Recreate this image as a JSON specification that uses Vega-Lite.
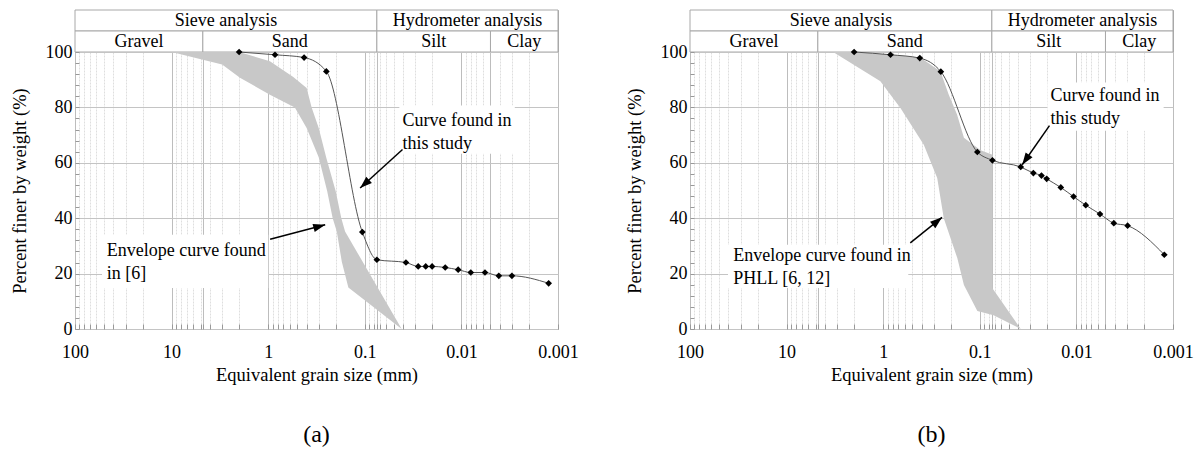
{
  "$schema": "https://vega.github.io/schema/vega-lite/v6.json",
  "background": "white",
  "padding": {"left": 9, "top": 9, "right": 5, "bottom": 5},
  "config": {
    "font": "Liberation Serif",
    "view": {"stroke": "#a8a8a8"},
    "axis": {"labelFont": "Liberation Serif", "titleFont": "Liberation Serif", "labelFontSize": 18, "titleFontSize": 18.5, "titleFontWeight": "normal", "labelColor": "#000", "titleColor": "#000", "domain": false},
    "title": {"font": "Liberation Serif", "fontSize": 24, "fontWeight": "normal", "color": "#000"}
  },
  "spacing": 45,
  "hconcat": [
    {
      "spacing": 0,
      "bounds": "flush",
      "vconcat": [
        {
          "width": 483, "height": 42,
          "data": {"values": [
            {"level": "analysis", "lo": 100, "hi": 0.075, "label": "Sieve analysis"},
            {"level": "analysis", "lo": 0.075, "hi": 0.001, "label": "Hydrometer analysis"},
            {"level": "soil", "lo": 100, "hi": 4.75, "label": "Gravel"},
            {"level": "soil", "lo": 4.75, "hi": 0.075, "label": "Sand"},
            {"level": "soil", "lo": 0.075, "hi": 0.005, "label": "Silt"},
            {"level": "soil", "lo": 0.005, "hi": 0.001, "label": "Clay"}
          ]},
          "layer": [
            {"mark": {"type": "rect", "fill": "white", "stroke": "#a8a8a8", "strokeWidth": 1},
             "encoding": {
               "x": {"field": "lo", "type": "quantitative", "scale": {"type": "log", "domain": [0.001, 100], "reverse": true, "nice": false}, "axis": null},
               "x2": {"field": "hi"},
               "y": {"field": "level", "type": "nominal", "scale": {"domain": ["analysis", "soil"], "paddingInner": 0, "paddingOuter": 0}, "axis": null}
             }},
            {"transform": [{"calculate": "sqrt(datum.lo*datum.hi)", "as": "mid"}],
             "mark": {"type": "text", "fontSize": 18, "font": "Liberation Serif", "baseline": "middle", "color": "#000"},
             "encoding": {
               "x": {"field": "mid", "type": "quantitative"},
               "y": {"field": "level", "type": "nominal"},
               "text": {"field": "label"}
             }}
          ]
        },
        {
          "width": 483, "height": 277,
          "title": {"text": "(a)", "orient": "bottom", "offset": 39, "anchor": "middle", "frame": "group"},
          "layer": [
            {"data": {"values": [
               {"size": 0.0439, "size2": 0.0028, "pct": 80.7, "pct2": 63.3},
               {"size": 52.5, "size2": 1.0, "pct": 34.0, "pct2": 14.8}
             ]},
             "mark": {"type": "rect", "fill": "white"},
             "encoding": {
               "x": {"field": "size", "type": "quantitative", "scale": {"type": "log", "domain": [0.001, 100], "reverse": true, "nice": false},
                 "axis": {"title": "Equivalent grain size (mm)", "values": [100,90,80,70,60,50,40,30,20,10,9,8,7,6,5,4.75,4,3,2,1,0.9,0.8,0.7,0.6,0.5,0.4,0.3,0.2,0.1,0.09,0.08,0.075,0.07,0.06,0.05,0.04,0.03,0.02,0.01,0.009,0.008,0.007,0.006,0.005,0.004,0.003,0.002,0.001],
                   "tickCount": 200,
                   "labelExpr": "abs(log(datum.value)/LN10 - round(log(datum.value)/LN10)) < 0.001 ? format(datum.value, '~g') : ''",
                   "labelOverlap": false, "labelFlush": false, "labelPadding": 19.5, "titlePadding": 3.5,
                   "grid": true,
                   "gridColor": {"condition": {"test": "abs(log(datum.value)/LN10 - round(log(datum.value)/LN10)) < 0.001 || datum.value == 4.75 || datum.value == 0.075 || datum.value == 0.005", "value": "#bdbdbd"}, "value": "#dedede"},
                   "gridDash": {"condition": {"test": "abs(log(datum.value)/LN10 - round(log(datum.value)/LN10)) < 0.001 || datum.value == 4.75 || datum.value == 0.075 || datum.value == 0.005", "value": []}, "value": [2, 1]},
                   "tickSize": -5, "tickColor": "#999999"}},
               "x2": {"field": "size2"},
               "y": {"field": "pct", "type": "quantitative", "scale": {"domain": [0, 100], "nice": false},
                 "axis": {"title": "Percent finer by weight (%)", "values": [0,4,8,12,16,20,24,28,32,36,40,44,48,52,56,60,64,68,72,76,80,84,88,92,96,100],
                   "tickCount": 200,
                   "labelExpr": "datum.value % 20 === 0 ? format(datum.value, 'd') : ''",
                   "labelPadding": 7, "titlePadding": 16, "labelOverlap": false,
                   "grid": true, "gridColor": "#c4c4c4",
                   "gridOpacity": {"condition": {"test": "datum.value % 20 === 0", "value": 1}, "value": 0},
                   "tickSize": -4, "tickColor": "#999999"}},
               "y2": {"field": "pct2"}
             }},
            {"data": {"values": [
               {"vertex": 1, "size": 10, "pct": 100},
               {"vertex": 2, "size": 3.0, "pct": 95.5},
               {"vertex": 3, "size": 1.96, "pct": 90.7},
               {"vertex": 4, "size": 0.96, "pct": 84.6},
               {"vertex": 5, "size": 0.53, "pct": 80},
               {"vertex": 6, "size": 0.4, "pct": 72.6},
               {"vertex": 7, "size": 0.3, "pct": 62},
               {"vertex": 8, "size": 0.245, "pct": 49.7},
               {"vertex": 9, "size": 0.215, "pct": 40},
               {"vertex": 10, "size": 0.195, "pct": 35.2},
               {"vertex": 11, "size": 0.173, "pct": 24.3},
               {"vertex": 12, "size": 0.148, "pct": 15},
               {"vertex": 13, "size": 0.0415, "pct": 0},
               {"vertex": 14, "size": 0.16, "pct": 35.2},
               {"vertex": 15, "size": 0.175, "pct": 40},
               {"vertex": 16, "size": 0.2, "pct": 49.7},
               {"vertex": 17, "size": 0.25, "pct": 61.7},
               {"vertex": 18, "size": 0.3, "pct": 72.6},
               {"vertex": 19, "size": 0.355, "pct": 80},
               {"vertex": 20, "size": 0.4, "pct": 87},
               {"vertex": 21, "size": 0.55, "pct": 91},
               {"vertex": 22, "size": 0.96, "pct": 96.7},
               {"vertex": 23, "size": 2.0, "pct": 100}
             ]},
             "mark": {"type": "line", "interpolate": "linear-closed", "filled": true, "color": "#c8c8c8", "strokeWidth": 0},
             "encoding": {
               "x": {"field": "size", "type": "quantitative"},
               "y": {"field": "pct", "type": "quantitative"},
               "order": {"field": "vertex", "type": "quantitative"}
             }},
            {"data": {"values": [
               {"size": 2.0, "pct": 100}, {"size": 0.85, "pct": 99}, {"size": 0.425, "pct": 98}, {"size": 0.25, "pct": 93},
               {"size": 0.106, "pct": 35}, {"size": 0.075, "pct": 25}, {"size": 0.0375, "pct": 24}, {"size": 0.028, "pct": 22.6},
               {"size": 0.0234, "pct": 22.6}, {"size": 0.0201, "pct": 22.6}, {"size": 0.0147, "pct": 22.2}, {"size": 0.0108, "pct": 21.4},
               {"size": 0.008, "pct": 20.4}, {"size": 0.0057, "pct": 20.4}, {"size": 0.0041, "pct": 19.2}, {"size": 0.003, "pct": 19.2},
               {"size": 0.00125, "pct": 16.5}
             ]},
             "layer": [
               {"mark": {"type": "line", "interpolate": "monotone", "color": "#555555", "strokeWidth": 1},
                "encoding": {"x": {"field": "size", "type": "quantitative"}, "y": {"field": "pct", "type": "quantitative"}, "order": {"field": "size", "type": "quantitative", "sort": "descending"}}},
               {"mark": {"type": "point", "shape": "diamond", "filled": true, "color": "#000", "size": 45, "opacity": 1},
                "encoding": {"x": {"field": "size", "type": "quantitative"}, "y": {"field": "pct", "type": "quantitative"}}}
             ]},
            {"data": {"values": [
               {"size": 0.0408, "pct": 75.0, "label": "Curve found in\nthis study"},
               {"size": 46.95, "pct": 28.0, "label": "Envelope curve found\nin [6]"}
             ]},
             "mark": {"type": "text", "align": "left", "baseline": "middle", "fontSize": 18, "font": "Liberation Serif", "lineBreak": "\n", "lineHeight": 22.5, "color": "#000"},
             "encoding": {"x": {"field": "size", "type": "quantitative"}, "y": {"field": "pct", "type": "quantitative"}, "text": {"field": "label"}}},
            {"data": {"values": [
               {"size": 0.0407, "pct": 64.8, "size2": 0.1117, "pct2": 50.9},
               {"size": 0.955, "pct": 32.4, "size2": 0.257, "pct2": 37.6}
             ]},
             "mark": {"type": "rule", "color": "#000", "strokeWidth": 1.5},
             "encoding": {"x": {"field": "size", "type": "quantitative"}, "y": {"field": "pct", "type": "quantitative"}, "x2": {"field": "size2"}, "y2": {"field": "pct2"}}},
            {"data": {"values": [{"size": 0.1117, "pct": 50.9}]},
             "mark": {"type": "point", "shape": "M0,0L0.7,2L-0.7,2Z", "filled": true, "color": "#000", "size": 144, "angle": 228, "opacity": 1},
             "encoding": {"x": {"field": "size", "type": "quantitative"}, "y": {"field": "pct", "type": "quantitative"}}},
            {"data": {"values": [{"size": 0.257, "pct": 37.6}]},
             "mark": {"type": "point", "shape": "M0,0L0.7,2L-0.7,2Z", "filled": true, "color": "#000", "size": 144, "angle": 75, "opacity": 1},
             "encoding": {"x": {"field": "size", "type": "quantitative"}, "y": {"field": "pct", "type": "quantitative"}}}
          ]
        }
      ]
    },
    {
      "spacing": 0,
      "bounds": "flush",
      "vconcat": [
        {
          "width": 483, "height": 42,
          "data": {"values": [
            {"level": "analysis", "lo": 100, "hi": 0.075, "label": "Sieve analysis"},
            {"level": "analysis", "lo": 0.075, "hi": 0.001, "label": "Hydrometer analysis"},
            {"level": "soil", "lo": 100, "hi": 4.75, "label": "Gravel"},
            {"level": "soil", "lo": 4.75, "hi": 0.075, "label": "Sand"},
            {"level": "soil", "lo": 0.075, "hi": 0.005, "label": "Silt"},
            {"level": "soil", "lo": 0.005, "hi": 0.001, "label": "Clay"}
          ]},
          "layer": [
            {"mark": {"type": "rect", "fill": "white", "stroke": "#a8a8a8", "strokeWidth": 1},
             "encoding": {
               "x": {"field": "lo", "type": "quantitative", "scale": {"type": "log", "domain": [0.001, 100], "reverse": true, "nice": false}, "axis": null},
               "x2": {"field": "hi"},
               "y": {"field": "level", "type": "nominal", "scale": {"domain": ["analysis", "soil"], "paddingInner": 0, "paddingOuter": 0}, "axis": null}
             }},
            {"transform": [{"calculate": "sqrt(datum.lo*datum.hi)", "as": "mid"}],
             "mark": {"type": "text", "fontSize": 18, "font": "Liberation Serif", "baseline": "middle", "color": "#000"},
             "encoding": {
               "x": {"field": "mid", "type": "quantitative"},
               "y": {"field": "level", "type": "nominal"},
               "text": {"field": "label"}
             }}
          ]
        },
        {
          "width": 483, "height": 277,
          "title": {"text": "(b)", "orient": "bottom", "offset": 39, "anchor": "middle", "frame": "group"},
          "layer": [
            {"data": {"values": [
               {"size": 0.0199, "size2": 0.00125, "pct": 89.0, "pct2": 71.6},
               {"size": 40.4, "size2": 0.55, "pct": 30.4, "pct2": 14.8}
             ]},
             "mark": {"type": "rect", "fill": "white"},
             "encoding": {
               "x": {"field": "size", "type": "quantitative", "scale": {"type": "log", "domain": [0.001, 100], "reverse": true, "nice": false},
                 "axis": {"title": "Equivalent grain size (mm)", "values": [100,90,80,70,60,50,40,30,20,10,9,8,7,6,5,4.75,4,3,2,1,0.9,0.8,0.7,0.6,0.5,0.4,0.3,0.2,0.1,0.09,0.08,0.075,0.07,0.06,0.05,0.04,0.03,0.02,0.01,0.009,0.008,0.007,0.006,0.005,0.004,0.003,0.002,0.001],
                   "tickCount": 200,
                   "labelExpr": "abs(log(datum.value)/LN10 - round(log(datum.value)/LN10)) < 0.001 ? format(datum.value, '~g') : ''",
                   "labelOverlap": false, "labelFlush": false, "labelPadding": 19.5, "titlePadding": 3.5,
                   "grid": true,
                   "gridColor": {"condition": {"test": "abs(log(datum.value)/LN10 - round(log(datum.value)/LN10)) < 0.001 || datum.value == 4.75 || datum.value == 0.075 || datum.value == 0.005", "value": "#bdbdbd"}, "value": "#dedede"},
                   "gridDash": {"condition": {"test": "abs(log(datum.value)/LN10 - round(log(datum.value)/LN10)) < 0.001 || datum.value == 4.75 || datum.value == 0.075 || datum.value == 0.005", "value": []}, "value": [2, 1]},
                   "tickSize": -5, "tickColor": "#999999"}},
               "x2": {"field": "size2"},
               "y": {"field": "pct", "type": "quantitative", "scale": {"domain": [0, 100], "nice": false},
                 "axis": {"title": "Percent finer by weight (%)", "values": [0,4,8,12,16,20,24,28,32,36,40,44,48,52,56,60,64,68,72,76,80,84,88,92,96,100],
                   "tickCount": 200,
                   "labelExpr": "datum.value % 20 === 0 ? format(datum.value, 'd') : ''",
                   "labelPadding": 7, "titlePadding": 16, "labelOverlap": false,
                   "grid": true, "gridColor": "#c4c4c4",
                   "gridOpacity": {"condition": {"test": "datum.value % 20 === 0", "value": 1}, "value": 0},
                   "tickSize": -4, "tickColor": "#999999"}},
               "y2": {"field": "pct2"}
             }},
            {"data": {"values": [
               {"vertex": 1, "size": 3.3, "pct": 100},
               {"vertex": 2, "size": 1.07, "pct": 89.4},
               {"vertex": 3, "size": 0.663, "pct": 79.8},
               {"vertex": 4, "size": 0.38, "pct": 66.5},
               {"vertex": 5, "size": 0.276, "pct": 54.5},
               {"vertex": 6, "size": 0.236, "pct": 40},
               {"vertex": 7, "size": 0.171, "pct": 25.6},
               {"vertex": 8, "size": 0.146, "pct": 15.9},
               {"vertex": 9, "size": 0.106, "pct": 6.5},
               {"vertex": 10, "size": 0.072, "pct": 5},
               {"vertex": 11, "size": 0.0377, "pct": 0},
               {"vertex": 12, "size": 0.074, "pct": 14.7},
               {"vertex": 13, "size": 0.074, "pct": 62.9},
               {"vertex": 14, "size": 0.098, "pct": 64.5},
               {"vertex": 15, "size": 0.146, "pct": 69},
               {"vertex": 16, "size": 0.172, "pct": 77.4},
               {"vertex": 17, "size": 0.21, "pct": 84.7},
               {"vertex": 18, "size": 0.255, "pct": 93},
               {"vertex": 19, "size": 0.41, "pct": 97.9},
               {"vertex": 20, "size": 0.84, "pct": 99.1},
               {"vertex": 21, "size": 2.0, "pct": 100}
             ]},
             "mark": {"type": "line", "interpolate": "linear-closed", "filled": true, "color": "#c8c8c8", "strokeWidth": 0},
             "encoding": {
               "x": {"field": "size", "type": "quantitative"},
               "y": {"field": "pct", "type": "quantitative"},
               "order": {"field": "vertex", "type": "quantitative"}
             }},
            {"data": {"values": [
               {"size": 2.0, "pct": 100}, {"size": 0.84, "pct": 99}, {"size": 0.418, "pct": 97.8}, {"size": 0.253, "pct": 92.9},
               {"size": 0.106, "pct": 63.9}, {"size": 0.074, "pct": 60.9}, {"size": 0.0377, "pct": 58.5}, {"size": 0.0279, "pct": 56.3},
               {"size": 0.023, "pct": 55.4}, {"size": 0.0203, "pct": 54.2}, {"size": 0.0145, "pct": 51.1}, {"size": 0.0107, "pct": 47.8},
               {"size": 0.008, "pct": 44.7}, {"size": 0.0057, "pct": 41.5}, {"size": 0.0041, "pct": 38.2}, {"size": 0.00295, "pct": 37.3},
               {"size": 0.00123, "pct": 26.8}
             ]},
             "layer": [
               {"mark": {"type": "line", "interpolate": "monotone", "color": "#555555", "strokeWidth": 1},
                "encoding": {"x": {"field": "size", "type": "quantitative"}, "y": {"field": "pct", "type": "quantitative"}, "order": {"field": "size", "type": "quantitative", "sort": "descending"}}},
               {"mark": {"type": "point", "shape": "diamond", "filled": true, "color": "#000", "size": 45, "opacity": 1},
                "encoding": {"x": {"field": "size", "type": "quantitative"}, "y": {"field": "pct", "type": "quantitative"}}}
             ]},
            {"data": {"values": [
               {"size": 0.0185, "pct": 84.0, "label": "Curve found in\nthis study"},
               {"size": 35.6, "pct": 26.2, "label": "Envelope curve found in\nPHLL [6, 12]"}
             ]},
             "mark": {"type": "text", "align": "left", "baseline": "middle", "fontSize": 18, "font": "Liberation Serif", "lineBreak": "\n", "lineHeight": 22.5, "color": "#000"},
             "encoding": {"x": {"field": "size", "type": "quantitative"}, "y": {"field": "pct", "type": "quantitative"}, "text": {"field": "label"}}},
            {"data": {"values": [
               {"size": 0.019, "pct": 73.4, "size2": 0.0364, "pct2": 59.3},
               {"size": 0.524, "pct": 31.1, "size2": 0.246, "pct2": 40.3}
             ]},
             "mark": {"type": "rule", "color": "#000", "strokeWidth": 1.5},
             "encoding": {"x": {"field": "size", "type": "quantitative"}, "y": {"field": "pct", "type": "quantitative"}, "x2": {"field": "size2"}, "y2": {"field": "pct2"}}},
            {"data": {"values": [{"size": 0.0364, "pct": 59.3}]},
             "mark": {"type": "point", "shape": "M0,0L0.7,2L-0.7,2Z", "filled": true, "color": "#000", "size": 144, "angle": 215, "opacity": 1},
             "encoding": {"x": {"field": "size", "type": "quantitative"}, "y": {"field": "pct", "type": "quantitative"}}},
            {"data": {"values": [{"size": 0.246, "pct": 40.3}]},
             "mark": {"type": "point", "shape": "M0,0L0.7,2L-0.7,2Z", "filled": true, "color": "#000", "size": 144, "angle": 51, "opacity": 1},
             "encoding": {"x": {"field": "size", "type": "quantitative"}, "y": {"field": "pct", "type": "quantitative"}}}
          ]
        }
      ]
    }
  ]
}
